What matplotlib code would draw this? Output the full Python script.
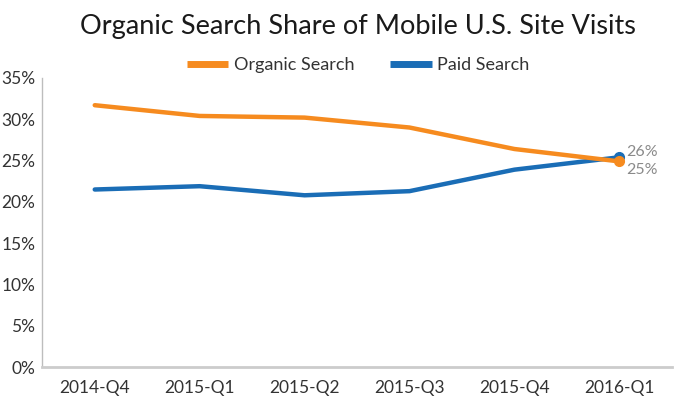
import matplotlib.pyplot as plt

quarters = ['2014-Q4', '2015-Q1', '2015-Q2', '2015-Q3', '2015-Q4', '2016-Q1']
organic = [31.7, 30.4, 30.2, 29.0, 26.4, 24.9]
paid = [21.5, 21.9, 20.8, 21.3, 23.9, 25.4]
end_labels = ['26%', '25%']
yticks = [0, 5, 10, 15, 20, 25, 30, 35]

orange = '#F68B1F'
blue = '#1A6DB6'

plt.rcParams['font.family'] = ['Lato', 'DejaVu Sans']

fig = plt.figure(figsize=(6.82, 4.08), dpi=100)
ax = fig.add_axes([0.062, 0.100, 0.923, 0.709])

x = list(range(len(quarters)))
ax.plot(x, organic, color=orange, lw=3.2, solid_capstyle='round', label='Organic Search', zorder=3)
ax.plot(x, paid, color=blue, lw=3.2, solid_capstyle='round', label='Paid Search', zorder=2)
ax.plot(x[-1], paid[-1], 'o', color=blue, ms=7, zorder=2)
ax.plot(x[-1], organic[-1], 'o', color=orange, ms=7, zorder=3)

ax.annotate(end_labels[0], (x[-1], paid[-1]), xytext=(5, 3.5), textcoords='offset points',
            color='#8a8a8a', fontsize=11.5, va='center')
ax.annotate(end_labels[1], (x[-1], organic[-1]), xytext=(5, -6.5), textcoords='offset points',
            color='#8a8a8a', fontsize=11.5, va='center')

ax.set_xlim(-0.5, 5.5)
ax.set_ylim(0, 35)
ax.set_xticks(x)
ax.set_xticklabels(quarters)
ax.set_yticks(yticks)
ax.set_yticklabels([f'{v}%' for v in yticks])
ax.tick_params(length=0, labelsize=12.5, colors='#333333')
ax.tick_params(axis='x', pad=9)
ax.tick_params(axis='y', pad=5)

for s in ['top', 'right']:
    ax.spines[s].set_visible(False)
ax.spines['left'].set_color('#bdbdbd')
ax.spines['left'].set_linewidth(1.0)
ax.spines['bottom'].set_color('#cccccc')
ax.spines['bottom'].set_linewidth(2.0)

fig.text(0.525, 0.935, 'Organic Search Share of Mobile U.S. Site Visits',
         ha='center', va='center', fontsize=19.5, color='#1a1a1a')

leg = fig.legend(loc='center', bbox_to_anchor=(0.525, 0.84), ncol=2, frameon=False,
                 fontsize=13, handlelength=2.3, columnspacing=2.0, handletextpad=0.3)
for h in leg.get_lines():
    h.set_linewidth(5)
    h.set_solid_capstyle('butt')
for t in leg.get_texts():
    t.set_color('#333333')

fig.savefig('out.png', dpi=100)
